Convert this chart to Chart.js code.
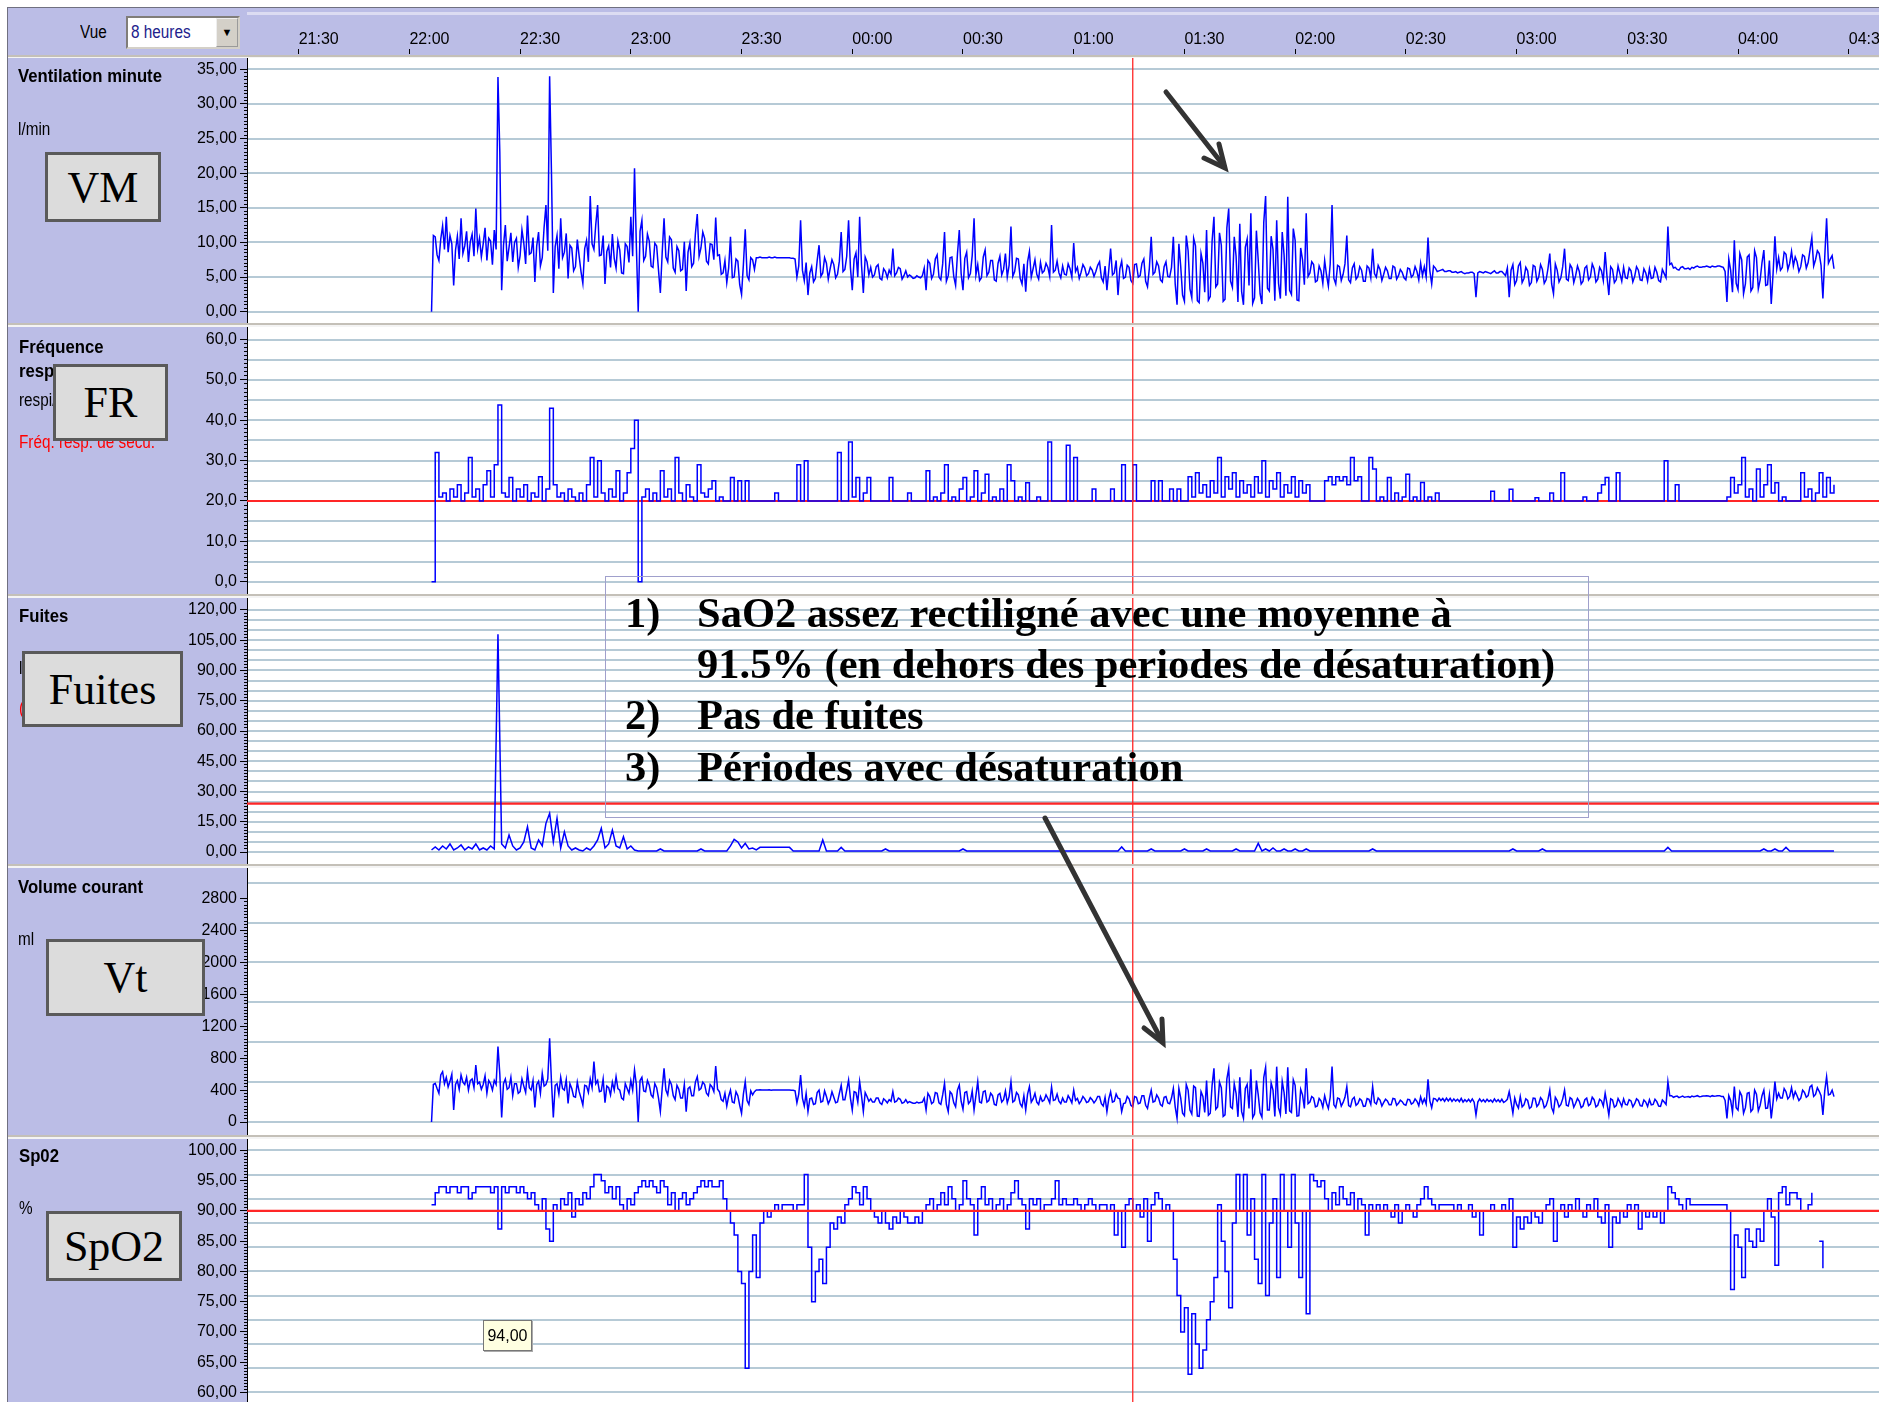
<!DOCTYPE html>
<html lang="fr">
<head>
<meta charset="utf-8">
<title>Ventilation nocturne - SpO2</title>
<script src="https://cdn.jsdelivr.net/npm/chart.js@4.4.1/dist/chart.umd.min.js"></script>
<style>
  body { margin: 0; width: 1879px; height: 1402px; position: relative; overflow: hidden; background: #fff;
         font-family: "Liberation Sans", Arial, sans-serif; font-size: 17px; color: #000; }
  .a { position: absolute; white-space: nowrap; }
  canvas { position: absolute; }
  #frame { left: 7px; top: 7px; width: 1872px; height: 1395px; background: #bbbde6; border-left: 1px solid #707080; border-top: 1px solid #707080; }
  .sep { left: 8px; width: 1871px; height: 4px; background: #f4f4f4; border-top: 2px solid #c4c0b8; box-sizing: border-box; }
  .b { font-weight: bold; font-size: 19px; transform: scaleX(0.88); transform-origin: 0 0; }
  .u { font-size: 18px; transform: scaleX(0.85); transform-origin: 0 0; }
  .tag { background: #dcdcdc; border: 3px solid #5a5a5a; box-sizing: border-box; font-family: "Liberation Serif", "Times New Roman", serif;
         font-size: 44px; display: flex; align-items: center; justify-content: center; }
  .note { font-family: "Liberation Serif", "Times New Roman", serif; font-weight: bold; font-size: 42.5px; line-height: 41px; }
</style>
</head>
<body>
<div class="a" id="frame"></div>
<div class="a" style="left:247px;top:12px;width:1632px;height:3px;background:#dcdcf2"></div>
<div class="a u" style="left:80px;top:22px">Vue</div>
<div class="a" style="left:126px;top:16px;width:114px;height:33px;background:#fff;border:2px inset #d4d0c8;box-sizing:border-box">
  <div class="a u" style="left:3px;top:4px;color:#22228c">8 heures</div>
  <div class="a" style="right:0;top:0;width:22px;height:29px;background:#d4d0c8;border:1px outset #eee;box-sizing:border-box;font-size:11px;text-align:center;line-height:27px">&#9660;</div>
</div>

<canvas id="hdr" width="1632" height="47" style="left:247px;top:8px"></canvas>
<div class="a sep" style="top:55px;height:3px"></div>
<canvas id="cVM" width="1871" height="265" style="left:8px;top:58px"></canvas>
<div class="a sep" style="top:323px"></div>
<canvas id="cFR" width="1871" height="267" style="left:8px;top:327px"></canvas>
<div class="a sep" style="top:594px"></div>
<canvas id="cFuites" width="1871" height="266" style="left:8px;top:598px"></canvas>
<div class="a sep" style="top:864px"></div>
<canvas id="cVT" width="1871" height="267" style="left:8px;top:868px"></canvas>
<div class="a sep" style="top:1135px"></div>
<canvas id="cSpO2" width="1871" height="263" style="left:8px;top:1139px"></canvas>

<!-- libelles de gauche -->
<div class="a b" style="left:18px;top:65px">Ventilation minute</div>
<div class="a u" style="left:18px;top:119px">l/min</div>
<div class="a tag" style="left:45px;top:152px;width:116px;height:70px">VM</div>

<div class="a b" style="left:19px;top:336px">Fréquence</div>
<div class="a b" style="left:19px;top:360px">respiratoire</div>
<div class="a u" style="left:19px;top:390px">respi/min</div>
<div class="a u" style="left:19px;top:432px;color:#ff0000">Fréq. resp. de secu.</div>
<div class="a tag" style="left:53px;top:364px;width:115px;height:77px">FR</div>

<div class="a b" style="left:19px;top:605px">Fuites</div>
<div class="a u" style="left:19px;top:658px">l/min</div>
<div class="a u" style="left:19px;top:698px;color:#ff0000">(seuil)</div>
<div class="a tag" style="left:22px;top:651px;width:161px;height:76px">Fuites</div>

<div class="a b" style="left:18px;top:876px">Volume courant</div>
<div class="a u" style="left:18px;top:929px">ml</div>
<div class="a tag" style="left:46px;top:939px;width:159px;height:77px">Vt</div>

<div class="a b" style="left:19px;top:1145px">Sp02</div>
<div class="a u" style="left:19px;top:1198px">%</div>
<div class="a tag" style="left:46px;top:1211px;width:136px;height:70px">SpO2</div>

<div class="a" style="left:483px;top:1320px;width:49px;height:31px;background:#ffffe1;border:1px solid #777;box-sizing:border-box;font-size:16px;text-align:center;line-height:29px;box-shadow:1px 1px 0 #aaa">94,00</div>

<!-- encadre de commentaires -->
<div class="a" style="left:605px;top:576px;width:984px;height:242px;border:1px solid #a0a0cc;box-sizing:border-box"></div>
<div class="a note" style="left:625px;top:592px">1)</div>
<div class="a note" style="left:697px;top:592px">SaO2 assez rectiligné avec une moyenne à</div>
<div class="a note" style="left:697px;top:643px">91.5% (en dehors des periodes de désaturation)</div>
<div class="a note" style="left:625px;top:694px">2)</div>
<div class="a note" style="left:697px;top:694px">Pas de fuites</div>
<div class="a note" style="left:625px;top:746px">3)</div>
<div class="a note" style="left:697px;top:746px">Périodes avec désaturation</div>

<svg class="a" style="left:0;top:0" width="1879" height="1402">
  <g stroke="#333" stroke-width="5" fill="none" stroke-linecap="round" stroke-linejoin="miter">
    <line x1="1166" y1="92" x2="1224" y2="166"/>
    <polyline points="1204,158 1225,168 1219,144"/>
    <line x1="1045" y1="818" x2="1162" y2="1041"/>
    <polyline points="1144,1028 1163,1043 1162,1019"/>
  </g>
</svg>

<script>
// temps en minutes apres 22:00 ; premiere mesure a 22:06
var FIRST_MIN = 6
var FAST_STEP = 0.5   // VM et Vt : deux mesures par minute
var SLOW_STEP = 1     // FR, fuites, SpO2 : une mesure par minute
var TIME_LABELS = ['21:30', '22:00', '22:30', '23:00', '23:30', '00:00', '00:30', '01:00', '01:30', '02:00', '02:30', '03:00', '03:30', '04:00', '04:30']
var CURSOR_TIME = '01:16'

var VM_TICKS = [0, 5, 10, 15, 20, 25, 30, 35]
var FR_TICKS = [0, 10, 20, 30, 40, 50, 60]
var FR_GRID = [0, 5, 10, 15, 20, 25, 30, 35, 40, 45, 50, 55, 60]
var FUITES_TICKS = [0, 15, 30, 45, 60, 75, 90, 105, 120]
var FUITES_GRID = [0, 5, 10, 15, 20, 25, 30, 35, 40, 45, 50, 55, 60, 65, 70, 75, 80, 85, 90, 95, 100, 105, 110, 115, 120]
var VT_TICKS = [0, 400, 800, 1200, 1600, 2000, 2400, 2800]
var VT_GRID = [0, 500, 1000, 1500, 2000, 2500, 3000]
var SPO2_TICKS = [60, 65, 70, 75, 80, 85, 90, 95, 100]
var SPO2_GRID = [60, 64, 68, 72, 76, 80, 84, 88, 92, 96, 100]

var FR_BACKUP = 20
var FUITES_LIMIT = 24
var SPO2_LIMIT = 90

// Ventilation minute (l/min), toutes les 30 s
var VM_LMIN = [
  0, 11.0, 10.8, 8.2, 7.4, 10.5, 12.4, 9.0, 13.7, 8.6, 11.0, 9.8, 3.8, 8.9, 10.9, 7.6, 13.5, 8.4, 9.5, 11.6,
  7.2, 10.1, 11.2, 8.0, 14.9, 9.1, 10.6, 7.9, 9.8, 12.1, 7.4, 10.6, 10.2, 6.8, 11.8, 9.0, 33.9, 23.0, 3.1, 9.6,
  12.5, 7.3, 9.3, 11.4, 7.2, 10.0, 10.6, 6.4, 8.1, 11.8, 9.9, 6.9, 13.9, 8.3, 8.5, 10.7, 4.3, 9.5, 11.5, 6.6,
  7.8, 12.2, 15.4, 8.8, 34.0, 20.0, 2.7, 9.4, 11.0, 6.2, 13.5, 7.8, 8.6, 11.3, 4.8, 9.6, 9.2, 5.9, 6.5, 10.4,
  8.0, 5.8, 4.1, 9.1, 10.3, 7.2, 16.7, 9.8, 9.0, 12.6, 15.4, 8.1, 8.2, 11.0, 4.0, 8.7, 9.5, 6.4, 11.2, 7.7,
  6.3, 10.2, 8.9, 5.6, 5.5, 9.8, 9.4, 7.1, 13.7, 8.0, 20.7, 9.5, 0.0, 11.6, 13.2, 7.4, 8.0, 11.2, 10.2, 6.6,
  6.4, 9.9, 9.5, 6.0, 2.7, 8.5, 13.5, 7.9, 7.2, 10.8, 10.4, 6.3, 5.7, 9.4, 8.8, 5.9, 6.1, 10.1, 3.0, 8.6,
  9.9, 6.5, 7.0, 11.3, 14.1, 8.0, 9.2, 11.5, 10.6, 7.3, 6.9, 9.8, 9.7, 7.5, 13.6, 8.1, 8.2, 5.4, 5.6, 7.4,
  4.2, 6.3, 10.8, 4.9, 5.0, 7.6, 7.3, 3.9, 2.5, 6.8, 11.9, 5.2, 4.6, 7.8, 7.5, 6.1, 7.8, 7.8, 7.9, 7.8,
  7.8, 7.8, 7.8, 7.9, 7.8, 7.8, 7.9, 7.8, 7.8, 7.8, 7.8, 7.8, 7.8, 7.8, 7.8, 7.7, 7.7, 7.6, 5.0, 6.6,
  13.2, 6.0, 4.5, 7.1, 2.4, 5.6, 6.5, 4.3, 4.8, 7.4, 9.6, 5.1, 5.6, 7.8, 7.0, 4.7, 6.2, 7.5, 6.8, 4.9,
  5.4, 7.3, 11.5, 5.8, 6.1, 8.0, 13.2, 6.4, 3.1, 7.6, 8.5, 5.0, 13.7, 6.8, 2.7, 7.9, 7.2, 5.3, 6.4, 5.0,
  5.3, 6.5, 6.8, 4.8, 4.6, 6.2, 5.8, 4.9, 6.0, 5.4, 9.1, 5.2, 5.6, 6.4, 6.2, 4.7, 5.2, 5.9, 5.0, 5.3,
  5.1, 4.8, 4.9, 5.2, 5.0, 4.9, 5.2, 6.3, 3.1, 7.4, 7.0, 4.8, 5.4, 7.6, 8.2, 5.0, 4.6, 6.9, 11.5, 4.4,
  5.2, 7.8, 7.9, 5.1, 3.8, 8.3, 11.8, 5.5, 3.1, 7.7, 8.6, 4.9, 5.5, 8.1, 13.5, 5.3, 6.8, 4.5, 4.9, 7.9,
  8.9, 5.2, 5.7, 7.4, 7.4, 4.6, 4.4, 7.0, 8.0, 5.3, 6.1, 8.4, 5.0, 6.7, 12.3, 5.1, 5.8, 7.7, 7.6, 4.8,
  4.0, 6.9, 2.9, 7.2, 8.7, 5.0, 6.2, 7.5, 5.4, 4.7, 7.1, 5.6, 5.9, 7.0, 6.4, 5.1, 12.5, 5.7, 6.0, 7.3,
  5.6, 4.9, 6.6, 5.4, 5.3, 6.9, 6.2, 5.0, 9.9, 5.8, 6.4, 4.8, 5.7, 6.8, 6.3, 5.2, 5.5, 6.4, 6.0, 5.1,
  5.8, 6.7, 7.2, 4.9, 4.3, 6.6, 3.1, 6.0, 9.1, 5.3, 5.6, 7.4, 2.4, 6.2, 7.3, 4.8, 5.0, 6.7, 6.4, 4.5,
  4.1, 6.8, 6.9, 5.0, 5.2, 7.0, 7.6, 4.4, 3.6, 6.3, 10.8, 5.4, 5.7, 7.2, 6.6, 4.6, 4.3, 6.5, 7.2, 5.1,
  5.0, 6.4, 10.8, 4.0, 1.0, 9.8, 6.5, 2.4, 1.5, 11.0, 8.8, 3.3, 2.0, 10.6, 9.5, 1.6, 1.3, 8.4, 7.0, 2.8,
  11.8, 1.7, 2.2, 10.2, 13.7, 3.6, 4.0, 11.4, 9.6, 1.5, 1.8, 12.1, 14.9, 4.4, 3.5, 10.8, 8.0, 1.4, 12.7, 2.9,
  1.0, 9.3, 10.5, 3.8, 14.2, 1.2, 2.0, 11.7, 7.4, 2.6, 1.1, 12.9, 16.7, 3.4, 3.0, 10.9, 9.0, 1.6, 13.2, 4.1,
  1.9, 11.5, 8.2, 2.3, 16.6, 3.1, 2.5, 12.0, 10.3, 1.7, 1.6, 9.2, 7.5, 3.9, 14.2, 5.1, 5.6, 7.2, 6.8, 4.3,
  4.5, 6.6, 5.9, 4.1, 7.4, 5.3, 3.7, 6.9, 15.4, 4.8, 4.0, 6.7, 6.5, 4.5, 5.4, 6.9, 11.0, 4.6, 4.2, 6.3,
  6.9, 4.7, 5.1, 6.5, 6.0, 4.4, 4.4, 6.6, 6.3, 4.9, 9.1, 5.5, 5.0, 6.7, 6.1, 4.5, 5.4, 6.4, 5.9, 4.8,
  4.8, 6.6, 6.4, 4.7, 5.2, 6.1, 5.7, 4.9, 4.6, 6.3, 6.2, 5.0, 5.3, 6.5, 5.8, 4.6, 7.0, 5.2, 6.5, 5.0,
  10.7, 5.9, 4.0, 6.6, 6.3, 5.8, 5.9, 6.0, 6.1, 5.8, 5.8, 5.9, 5.9, 5.7, 5.7, 5.8, 5.6, 5.7, 5.8, 5.6,
  5.5, 5.6, 5.6, 5.7, 5.7, 5.5, 2.1, 5.6, 5.8, 5.7, 5.6, 5.8, 5.7, 5.6, 5.5, 5.7, 5.9, 5.6, 5.6, 5.8,
  5.8, 5.5, 5.2, 6.3, 2.1, 6.0, 6.8, 3.9, 4.5, 6.6, 7.1, 4.2, 4.8, 6.4, 5.9, 3.8, 4.2, 6.7, 6.5, 4.4,
  5.0, 6.8, 6.1, 4.1, 4.6, 6.2, 8.4, 4.0, 2.6, 6.9, 6.0, 4.3, 4.9, 6.5, 9.1, 4.7, 4.5, 6.8, 6.3, 4.2,
  5.2, 6.6, 5.8, 4.0, 4.4, 6.3, 6.6, 4.6, 5.0, 6.9, 6.2, 4.3, 4.7, 6.4, 5.9, 4.5, 8.6, 5.1, 2.4, 6.5,
  6.1, 4.2, 4.6, 6.6, 5.5, 4.4, 6.4, 4.9, 4.8, 6.3, 5.9, 4.3, 5.1, 6.5, 6.0, 4.6, 4.5, 6.2, 5.6, 4.4,
  6.2, 4.8, 4.9, 6.4, 5.7, 4.5, 4.3, 6.1, 5.5, 4.9, 12.3, 6.8, 7.0, 6.3, 6.4, 6.1, 6.0, 6.4, 6.5, 6.2,
  6.2, 6.3, 6.1, 6.4, 6.3, 6.5, 6.6, 6.4, 6.4, 6.5, 6.5, 6.6, 6.5, 6.4, 6.6, 6.5, 6.5, 6.6, 6.6, 6.5,
  6.4, 5.8, 1.4, 7.6, 6.0, 2.8, 10.3, 4.1, 3.2, 8.4, 7.5, 2.6, 4.0, 7.9, 8.2, 3.0, 3.5, 8.8, 7.8, 3.3,
  4.6, 7.1, 8.9, 3.8, 3.9, 7.4, 1.1, 5.5, 10.9, 6.2, 7.8, 6.0, 6.4, 8.6, 8.3, 6.1, 7.0, 8.7, 6.6, 7.9,
  7.2, 5.8, 6.5, 8.2, 8.0, 6.3, 7.1, 8.9, 10.7, 6.6, 7.5, 8.8, 8.4, 6.7, 1.9, 7.9, 13.5, 7.0, 7.6, 8.1,
  6.2
]

// Frequence respiratoire (c/min), chaque minute
var FR_CPM = [
  0, 32, 21, 22, 20, 23, 21, 24, 20, 22, 30.8, 21, 23, 20, 24, 27.5, 21, 29, 43.8, 22,
  21, 25.8, 20, 23, 21, 24, 20, 22, 21, 26, 20, 23, 43, 24, 21, 22, 20, 23, 21, 20,
  22, 20, 24, 30.8, 21, 30, 22, 20, 23, 21, 27.5, 20, 22, 27, 33, 40, 0, 21, 23, 20,
  22, 20, 27.5, 21, 23, 20, 30.8, 22, 20, 24, 21, 20, 29, 22, 21, 23, 25, 20, 21, 20,
  20, 25.8, 20, 25, 20, 25, 20, 20, 20, 20, 20, 20, 20, 22, 20, 20, 20, 20, 20, 29,
  20, 30, 20, 20, 20, 20, 20, 20, 20, 20, 32, 20, 20, 34.6, 21, 25.8, 20, 22, 25.8, 20,
  20, 20, 20, 20, 25.8, 20, 20, 20, 20, 22, 20, 20, 20, 20, 27.5, 20, 21, 20, 22, 29,
  20, 21, 20, 23, 25.8, 20, 21, 27.5, 20, 22, 26.6, 20, 21, 20, 23, 20, 29, 25, 20, 21,
  20, 24.5, 20, 20, 21, 20, 20, 34.6, 20, 20, 20, 20, 33.8, 20, 30.8, 20, 20, 20, 20, 23,
  20, 20, 20, 20, 23, 20, 20, 29, 20, 20, 29, 20, 20, 20, 20, 25, 20, 25, 20, 20,
  23, 20, 23, 20, 20, 26, 21, 27, 22, 24, 21, 25, 22, 30.8, 21, 26, 23, 27, 21, 25,
  22, 24, 21, 26, 22, 30, 21, 25, 23, 27, 21, 24, 22, 26, 21, 25, 22, 24, 20, 20,
  20, 20, 25, 26, 24, 26, 25, 26, 24, 30.8, 25, 26, 20, 20, 30.8, 27.9, 20, 21, 20, 25.8,
  20, 22, 20, 21, 26.6, 20, 21, 20, 24.6, 20, 21, 20, 22, 20, 20, 20, 20, 20, 20, 20,
  20, 20, 20, 20, 20, 20, 20, 22.4, 20, 20, 20, 20, 22.9, 20, 20, 20, 20, 20, 20, 20.8,
  20, 20, 20, 22, 20, 20, 27, 20, 20, 20, 20, 20, 21, 20, 20, 20, 22, 24, 25.8, 20,
  20, 27, 20, 20, 20, 20, 20, 20, 20, 20, 20, 20, 20, 20, 30, 20, 20, 24, 20, 20,
  20, 20, 20, 20, 20, 20, 20, 20, 20, 20, 20, 21, 25.8, 22, 24, 30.8, 21, 23, 20, 27.9,
  21, 24, 29, 22, 24.5, 20, 21, 20, 20, 20, 20, 27, 21, 23, 20, 22, 27, 21, 25.8, 22,
  24
]

// Fuites (l/min), chaque minute
var FUITES_LMIN = [
  1, 2.5, 1, 3, 1.5, 4, 1, 2, 3.5, 1, 2.5, 1.5, 4, 1, 2, 1, 3, 1.5, 108, 4,
  2, 8.4, 3, 1, 2, 5, 12.6, 2, 1, 6, 3, 14.2, 19.2, 5, 16.7, 2, 10, 3, 1, 2,
  1, 0.5, 2, 1, 3, 6, 11.7, 2, 4, 10.9, 3, 2, 7.6, 1.5, 3, 1, 0.5, 0.5, 0.5, 0.5,
  0.5, 0.5, 1.5, 0.5, 0.5, 0.5, 0.5, 0.5, 0.5, 0.5, 0.5, 0.5, 0.5, 1.5, 0.5, 0.5, 0.5, 0.5, 0.5, 0.5,
  0.5, 3, 6.3, 5, 2, 4.3, 1.5, 2, 1, 2.3, 2.3, 2.3, 2.3, 2.3, 2.3, 2.3, 2.3, 2.3, 0.5, 0.5,
  0.5, 0.5, 0.5, 0.5, 0.5, 0.5, 6, 0.5, 0.5, 0.5, 0.5, 2.3, 0.5, 0.5, 0.5, 0.5, 0.5, 0.5, 0.5, 0.5,
  0.5, 0.5, 0.5, 1.5, 0.5, 0.5, 0.5, 0.5, 0.5, 0.5, 0.5, 0.5, 0.5, 0.5, 0.5, 0.5, 0.5, 0.5, 0.5, 0.5,
  0.5, 0.5, 0.5, 0.5, 1.5, 0.5, 0.5, 0.5, 0.5, 0.5, 0.5, 0.5, 0.5, 0.5, 0.5, 0.5, 0.5, 0.5, 0.5, 0.5,
  0.5, 0.5, 0.5, 0.5, 0.5, 0.5, 0.5, 0.5, 0.5, 0.5, 0.5, 0.5, 0.5, 0.5, 0.5, 0.5, 0.5, 0.5, 0.5, 0.5,
  0.5, 0.5, 0.5, 0.5, 0.5, 0.5, 0.5, 2.5, 0.5, 0.5, 0.5, 0.5, 0.5, 0.5, 0.5, 1.5, 0.5, 0.5, 0.5, 0.5,
  0.5, 0.5, 0.5, 0.5, 1.5, 0.5, 0.5, 0.5, 0.5, 0.5, 1.5, 0.5, 0.5, 0.5, 0.5, 0.5, 0.5, 0.5, 1.5, 0.5,
  0.5, 0.5, 0.5, 0.5, 4.3, 0.5, 1.5, 0.5, 2, 0.5, 0.5, 1.5, 0.5, 0.5, 1.5, 0.5, 0.5, 1.5, 0.5, 0.5,
  0.5, 0.5, 0.5, 0.5, 0.5, 0.5, 0.5, 0.5, 0.5, 0.5, 0.5, 0.5, 0.5, 0.5, 0.5, 1.5, 0.5, 0.5, 0.5, 0.5,
  0.5, 0.5, 0.5, 0.5, 0.5, 0.5, 0.5, 0.5, 0.5, 0.5, 0.5, 0.5, 0.5, 0.5, 0.5, 0.5, 0.5, 0.5, 0.5, 0.5,
  0.5, 0.5, 0.5, 0.5, 0.5, 0.5, 0.5, 0.5, 0.5, 0.5, 0.5, 0.5, 0.5, 1.5, 0.5, 0.5, 0.5, 0.5, 0.5, 0.5,
  0.5, 1.5, 0.5, 0.5, 0.5, 0.5, 0.5, 0.5, 0.5, 0.5, 0.5, 0.5, 0.5, 0.5, 0.5, 0.5, 0.5, 0.5, 0.5, 0.5,
  0.5, 0.5, 0.5, 0.5, 0.5, 0.5, 0.5, 0.5, 0.5, 0.5, 0.5, 0.5, 0.5, 0.5, 0.5, 2.3, 0.5, 0.5, 0.5, 0.5,
  0.5, 0.5, 0.5, 0.5, 0.5, 0.5, 0.5, 0.5, 0.5, 0.5, 0.5, 0.5, 0.5, 0.5, 0.5, 0.5, 0.5, 0.5, 0.5, 0.5,
  0.5, 1.5, 0.5, 0.5, 1.5, 0.5, 0.5, 2.3, 0.5, 0.5, 0.5, 0.5, 0.5, 0.5, 0.5, 0.5, 0.5, 0.5, 0.5, 0.5,
  0.5
]

// Volume courant (ml), toutes les 30 s
var VT_ML = [
  0, 470, 485, 420, 360, 590, 631, 480, 560, 440, 510, 600, 150, 470, 520, 410, 590, 500, 470, 560,
  400, 520, 540, 430, 715, 480, 500, 410, 470, 580, 360, 520, 480, 400, 520, 470, 945, 600, 58, 480,
  540, 410, 430, 560, 330, 480, 480, 360, 380, 540, 450, 370, 631, 430, 400, 520, 184, 470, 510, 360,
  610, 450, 470, 540, 1049, 500, 58, 460, 480, 350, 560, 420, 400, 530, 234, 480, 420, 320, 310, 500,
  380, 300, 213, 460, 450, 370, 540, 430, 757, 480, 520, 380, 390, 540, 242, 450, 430, 340, 500, 400,
  568, 420, 400, 300, 280, 480, 420, 360, 520, 400, 652, 470, 0, 520, 560, 390, 380, 520, 460, 340,
  310, 480, 430, 300, 130, 420, 673, 400, 340, 520, 470, 330, 280, 460, 410, 300, 300, 470, 130, 420,
  440, 330, 330, 500, 568, 400, 420, 500, 470, 360, 330, 470, 440, 380, 702, 410, 380, 280, 260, 360,
  200, 320, 400, 250, 240, 380, 330, 210, 109, 350, 506, 270, 220, 390, 340, 380, 401, 401, 405, 401,
  401, 401, 401, 403, 398, 401, 401, 401, 401, 400, 401, 401, 401, 401, 401, 398, 398, 390, 240, 350,
  589, 300, 200, 360, 130, 290, 300, 220, 230, 370, 400, 250, 260, 390, 320, 230, 280, 380, 310, 240,
  250, 360, 460, 280, 280, 400, 527, 300, 150, 380, 370, 250, 506, 330, 130, 370, 320, 260, 290, 250,
  250, 300, 300, 240, 220, 290, 270, 240, 280, 260, 380, 250, 260, 300, 285, 235, 245, 280, 240, 255,
  245, 235, 235, 250, 240, 245, 250, 300, 150, 360, 320, 230, 250, 370, 360, 240, 220, 340, 485, 220,
  130, 380, 350, 240, 190, 400, 464, 260, 160, 370, 380, 230, 260, 390, 150, 330, 506, 250, 240, 380,
  390, 250, 270, 360, 330, 220, 210, 340, 360, 250, 280, 390, 240, 320, 506, 250, 270, 370, 340, 230,
  190, 330, 150, 350, 443, 250, 290, 360, 250, 220, 320, 260, 275, 340, 295, 240, 440, 270, 280, 350,
  260, 230, 300, 250, 250, 330, 290, 240, 400, 270, 295, 230, 265, 320, 290, 245, 255, 305, 280, 240,
  270, 320, 320, 230, 200, 310, 130, 290, 380, 250, 260, 350, 300, 290, 130, 230, 240, 320, 290, 210,
  190, 320, 310, 230, 240, 330, 330, 210, 170, 300, 400, 250, 260, 340, 300, 220, 200, 310, 320, 240,
  230, 300, 420, 190, 46, 420, 300, 110, 80, 470, 400, 150, 100, 450, 430, 75, 70, 380, 320, 120,
  520, 85, 110, 460, 673, 160, 190, 500, 430, 70, 90, 540, 673, 190, 170, 480, 360, 65, 560, 130,
  46, 420, 470, 170, 660, 55, 100, 520, 340, 115, 60, 560, 686, 150, 150, 490, 400, 70, 694, 180,
  95, 510, 370, 100, 686, 140, 120, 530, 460, 75, 80, 410, 340, 170, 673, 230, 250, 320, 300, 190,
  200, 295, 265, 185, 330, 235, 170, 310, 694, 215, 180, 300, 290, 200, 245, 310, 443, 205, 190, 285,
  310, 210, 230, 290, 270, 195, 200, 295, 285, 220, 443, 245, 225, 300, 275, 200, 245, 285, 265, 215,
  215, 295, 290, 210, 235, 275, 255, 220, 210, 285, 280, 225, 240, 290, 260, 205, 315, 235, 290, 225,
  535, 265, 180, 295, 290, 260, 300, 270, 295, 260, 300, 265, 297, 258, 290, 262, 285, 256, 297, 250,
  280, 255, 285, 252, 290, 248, 88, 250, 290, 255, 280, 250, 285, 258, 275, 248, 290, 255, 280, 250,
  285, 245, 260, 285, 380, 250, 109, 300, 220, 175, 320, 190, 215, 290, 270, 170, 190, 300, 295, 195,
  225, 305, 275, 180, 205, 280, 401, 180, 120, 310, 270, 190, 220, 290, 400, 210, 200, 305, 285, 185,
  235, 295, 260, 180, 200, 280, 300, 205, 225, 310, 280, 190, 210, 285, 265, 200, 360, 230, 88, 290,
  275, 185, 205, 295, 250, 195, 290, 220, 215, 280, 265, 190, 230, 290, 270, 205, 200, 275, 250, 195,
  280, 215, 220, 285, 255, 200, 195, 275, 250, 220, 506, 330, 330, 310, 320, 325, 305, 315, 325, 310,
  315, 320, 310, 325, 318, 322, 330, 318, 320, 325, 325, 328, 325, 318, 330, 322, 325, 330, 330, 320,
  320, 270, 46, 330, 270, 120, 443, 180, 150, 380, 330, 110, 180, 360, 370, 130, 160, 400, 350, 140,
  210, 330, 400, 170, 175, 340, 46, 250, 506, 290, 360, 300, 300, 420, 380, 290, 320, 430, 305, 380,
  330, 270, 300, 400, 370, 310, 330, 440, 460, 320, 345, 430, 385, 330, 88, 390, 568, 340, 350, 400,
  318
]

// SpO2 (%), chaque minute
var SPO2_PCT = [
  91, 93, 94, 94, 93, 94, 94, 93, 94, 94, 92, 93, 94, 94, 94, 94, 93, 94, 87, 94,
  93, 94, 94, 93, 94, 93, 92, 93, 91, 90, 92, 87, 85, 91, 90, 92, 91, 93, 89, 92,
  91, 93, 92, 94, 96, 96, 95, 93, 94, 92, 94, 91, 90, 92, 91, 93, 94, 95, 94, 95,
  94, 93, 95, 94, 91, 93, 90, 92, 93, 91, 92, 93, 94, 95, 94, 95, 94, 94, 95, 92,
  90, 88, 86, 80, 78, 64, 80, 86, 79, 88, 90, 89, 90, 91, 90, 91, 91, 91, 90, 91,
  91, 96, 84, 75, 80, 82, 78, 84, 88, 87, 89, 88, 91, 92, 94, 93, 91, 94, 92, 90,
  89, 88, 90, 88, 87, 89, 88, 90, 89, 88, 88, 89, 88, 90, 91, 92, 90, 91, 93, 91,
  94, 92, 90, 91, 95, 92, 91, 86, 92, 94, 91, 92, 90, 91, 92, 90, 91, 93, 95, 92,
  91, 87, 92, 91, 92, 90, 91, 91, 92, 95, 91, 92, 91, 91, 92, 91, 90, 91, 92, 91,
  90, 91, 91, 90, 91, 86, 90, 84, 91, 92, 90, 91, 89, 92, 85, 91, 93, 92, 90, 91,
  90, 82, 76, 70, 74, 63, 73, 68, 64, 67, 72, 75, 79, 91, 85, 80, 74, 88, 96, 90,
  96, 86, 92, 82, 78, 96, 76, 88, 92, 79, 96, 90, 84, 96, 88, 79, 90, 73, 96, 95,
  94, 95, 92, 90, 93, 91, 94, 92, 91, 93, 90, 92, 91, 86, 91, 90, 91, 90, 91, 90,
  89, 91, 88, 90, 91, 90, 89, 91, 92, 94, 92, 91, 90, 91, 91, 91, 91, 90, 91, 90,
  90, 91, 89, 90, 86, 90, 90, 91, 90, 90, 91, 90, 92, 84, 89, 87, 89, 88, 90, 89,
  88, 90, 91, 92, 85, 90, 91, 89, 91, 90, 92, 90, 89, 91, 90, 92, 89, 88, 91, 84,
  89, 88, 90, 89, 91, 90, 91, 87, 90, 89, 90, 89, 90, 88, 90, 94, 93, 92, 91, 90,
  92, 91, 91, 91, 91, 91, 91, 91, 91, 91, 91, 90, 77, 86, 84, 79, 87, 85, 84, 87,
  85, 90, 92, 89, 81, 93, 94, 91, 93, 93, 92, 90, 90, 91, 93, null, 85, 80.5, null, null,
  null
]

var LAVENDER = '#bbbde6'
var GRID = '#b6cad6'
var BLUE = '#0000ff'
var RED = '#ff2626'
var X_MIN = -44
var X_MAX = 398.2
var Y_AXIS_W = 239

Chart.defaults.animation = false
Chart.defaults.events = []
Chart.defaults.font.family = '"Liberation Sans", Arial, sans-serif'
Chart.defaults.font.size = 16
Chart.defaults.color = '#000'

function toMin(hhmm) {
    var p = hhmm.split(':')
    var m = (+p[0]) * 60 + (+p[1]) - 22 * 60
    return m < -120 ? m + 1440 : m
}

function fmtMin(v) {
    var t = ((Math.round(v) + 22 * 60) % 1440 + 1440) % 1440
    var pad = (n) => (n < 10 ? '0' : '') + n
    return pad(Math.floor(t / 60)) + ':' + pad(t % 60)
}

function toPoints(values, step) {
    return values.map((v, i) => ({ x: FIRST_MIN + i * step, y: v }))
}

var CURSOR = toMin(CURSOR_TIME)

// fond lavande autour, zone de trace blanche
var panelBg = {
    id: 'panelBg',
    beforeDraw(chart) {
        var ctx = chart.ctx, a = chart.chartArea
        ctx.save()
        ctx.fillStyle = LAVENDER
        ctx.fillRect(0, 0, chart.width, chart.height)
        ctx.fillStyle = '#fff'
        ctx.fillRect(a.left, a.top, a.right - a.left, a.bottom - a.top)
        ctx.restore()
    }
}

function fixedTicks(list) {
    return (s) => { s.ticks = list.map(v => ({ value: v })) }
}

function panel(id, o) {
    var minor = []
    var lo = o.ticks[0], hi = o.ticks[o.ticks.length - 1]
    for (var k = 0; lo + k * o.minorStep <= hi + 1e-9; k++) minor.push(lo + k * o.minorStep)

    var datasets = [{
        data: toPoints(o.values, o.step),
        borderColor: BLUE,
        borderWidth: 1.5,
        pointRadius: 0,
        stepped: o.stepped || false,
        spanGaps: false,
        order: 1
    }]
    if (o.limit != null) {
        datasets.push({
            data: [{ x: X_MIN, y: o.limit }, { x: X_MAX, y: o.limit }],
            borderColor: RED, borderWidth: 2.2, pointRadius: 0, order: o.limitOnTop ? 0 : 2
        })
    }
    datasets.push({
        data: [{ x: CURSOR, y: o.min }, { x: CURSOR, y: o.max }],
        borderColor: RED, borderWidth: 1.3, pointRadius: 0, order: 0
    })

    return new Chart(document.getElementById(id), {
        type: 'line',
        data: { datasets: datasets },
        options: {
            responsive: false,
            layout: { padding: 0 },
            plugins: { legend: { display: false }, tooltip: { enabled: false } },
            scales: {
                x: { type: 'linear', min: X_MIN, max: X_MAX, display: false },
                y: {
                    min: o.min, max: o.max, position: 'left', weight: 5,
                    afterBuildTicks: fixedTicks(o.ticks),
                    afterFit: (s) => { s.width = Y_AXIS_W; s.paddingTop = 0; s.paddingBottom = 0 },
                    grid: { drawOnChartArea: false, tickLength: 7, color: '#000', lineWidth: 1 },
                    border: { display: true, color: '#000', width: 1 },
                    ticks: { padding: 3, autoSkip: false, callback: o.fmt }
                },
                yMinor: {
                    min: o.min, max: o.max, position: 'left', weight: 1,
                    afterBuildTicks: fixedTicks(minor),
                    afterFit: (s) => { s.width = 0 },
                    grid: { drawOnChartArea: false, tickLength: 3, color: '#000', lineWidth: 1 },
                    border: { display: false },
                    ticks: { display: false }
                },
                yGrid: {
                    min: o.min, max: o.max, position: 'left', weight: 0,
                    afterBuildTicks: fixedTicks(o.grid),
                    afterFit: (s) => { s.width = 0 },
                    grid: { drawTicks: false, color: GRID, lineWidth: 2 },
                    border: { display: false },
                    ticks: { display: false }
                }
            }
        },
        plugins: [panelBg]
    })
}

// bandeau des heures
new Chart(document.getElementById('hdr'), {
    type: 'line',
    data: { datasets: [] },
    options: {
        responsive: false,
        layout: { padding: 0 },
        plugins: { legend: { display: false }, tooltip: { enabled: false } },
        scales: {
            x: {
                type: 'linear', position: 'top', min: X_MIN, max: X_MAX,
                afterBuildTicks: fixedTicks(TIME_LABELS.map(toMin)),
                afterFit: (s) => { s.height = 46; s.paddingLeft = 0; s.paddingRight = 0 },
                grid: { drawOnChartArea: false, tickLength: 5, color: '#000', lineWidth: 1 },
                border: { display: false },
                ticks: { align: 'start', padding: 0, maxRotation: 0, autoSkip: false, callback: fmtMin }
            },
            y: { display: false }
        }
    }
})

var dec2 = (v) => v.toFixed(2).replace('.', ',')
var dec1 = (v) => v.toFixed(1).replace('.', ',')
var int0 = (v) => String(Math.round(v))

panel('cVM', { values: VM_LMIN, step: FAST_STEP, min: -1.632, max: 36.632, ticks: VM_TICKS, grid: VM_TICKS, minorStep: 0.5, fmt: dec2 })
panel('cFR', { values: FR_CPM, step: SLOW_STEP, min: -3.05, max: 63.12, ticks: FR_TICKS, grid: FR_GRID, minorStep: 1, fmt: dec1, stepped: true, limit: FR_BACKUP })
panel('cFuites', { values: FUITES_LMIN, step: SLOW_STEP, min: -5.95, max: 125.95, ticks: FUITES_TICKS, grid: FUITES_GRID, minorStep: 1.5, fmt: dec2, limit: FUITES_LIMIT })
panel('cVT', { values: VT_ML, step: FAST_STEP, min: -163, max: 3184.9, ticks: VT_TICKS, grid: VT_GRID, minorStep: 40, fmt: int0 })
panel('cSpO2', { values: SPO2_PCT, step: SLOW_STEP, min: 58.413, max: 101.884, ticks: SPO2_TICKS, grid: SPO2_GRID, minorStep: 0.5, fmt: dec2, stepped: true, limit: SPO2_LIMIT, limitOnTop: true })
</script>
</body>
</html>
